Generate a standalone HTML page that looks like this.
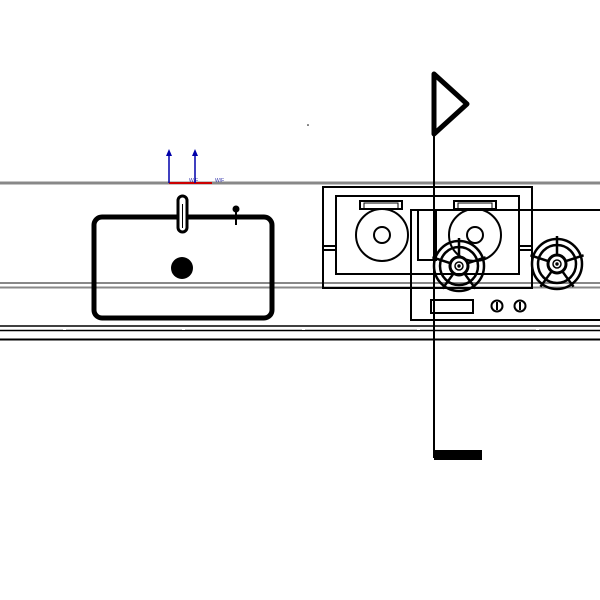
<!DOCTYPE html>
<html><head><style>html,body{margin:0;padding:0;background:#fff}svg{display:block}</style></head>
<body>
<svg width="600" height="600" viewBox="0 0 600 600" xmlns="http://www.w3.org/2000/svg">
<defs>
<g id="burner" fill="none" stroke="#000">
<circle r="25" stroke-width="2.5"/>
<circle r="19" stroke-width="2.5"/>
<circle r="9" stroke-width="3"/>
<circle r="4" stroke-width="1.5"/>
<circle r="1.2" fill="#000"/>
<g stroke-width="2.5">
<line x1="0" y1="-9" x2="0" y2="-28"/>
<line x1="8.6" y1="-2.8" x2="26.6" y2="-8.7"/>
<line x1="5.3" y1="7.3" x2="16.5" y2="22.7"/>
<line x1="-5.3" y1="7.3" x2="-16.5" y2="22.7"/>
<line x1="-8.6" y1="-2.8" x2="-26.6" y2="-8.7"/>
</g>
</g>
</defs>
<rect width="600" height="600" fill="#fff"/>
<line x1="0" y1="183" x2="600" y2="183" stroke="#888" stroke-width="3"/>
<line x1="0" y1="283" x2="600" y2="283" stroke="#888" stroke-width="2"/>
<line x1="0" y1="287.5" x2="600" y2="287.5" stroke="#888" stroke-width="2"/>
<g stroke="#000" stroke-width="1.6">
<line x1="0" y1="326" x2="600" y2="326"/>
<line x1="0" y1="330.5" x2="600" y2="330.5"/>
<line x1="0" y1="339.5" x2="600" y2="339.5" stroke-width="2"/>
</g>
<g fill="#fff">
<rect x="63" y="327" width="3" height="3"/>
<rect x="182" y="327" width="3" height="3"/>
<rect x="302" y="327" width="3" height="3"/>
<rect x="417" y="327" width="3" height="3"/>
<rect x="536" y="327" width="3" height="3"/>
</g>
<line x1="169" y1="183" x2="212" y2="183" stroke="#c00" stroke-width="2"/>
<line x1="169" y1="183" x2="169" y2="154" stroke="#00a" stroke-width="1.5"/>
<polygon points="166,156 172,156 169,149" fill="#00a"/>
<line x1="195" y1="183" x2="195" y2="154" stroke="#00a" stroke-width="1.5"/>
<polygon points="192,156 198,156 195,149" fill="#00a"/>
<text x="189" y="182" font-family="Liberation Sans, sans-serif" font-size="5" fill="#33a">W/F</text>
<text x="215" y="182" font-family="Liberation Sans, sans-serif" font-size="5" fill="#33a">W/F</text>
<circle cx="308" cy="125" r="0.8" fill="#000"/>
<rect x="94" y="217" width="178" height="101" rx="8" fill="none" stroke="#000" stroke-width="5"/>
<circle cx="182" cy="268" r="11" fill="#000"/>
<rect x="178" y="196" width="9" height="36" rx="4.5" fill="#fff" stroke="#000" stroke-width="3"/>
<line x1="182.5" y1="204" x2="182.5" y2="228" stroke="#000" stroke-width="1"/>
<circle cx="236" cy="209" r="3.5" fill="#000"/>
<line x1="236" y1="209" x2="236" y2="225" stroke="#000" stroke-width="2"/>
<g fill="none" stroke="#000" stroke-width="2">
<rect x="323" y="187" width="209" height="101"/>
<rect x="336" y="196" width="183" height="78"/>
<line x1="323" y1="246" x2="336" y2="246"/><line x1="323" y1="250" x2="336" y2="250"/>
<line x1="519" y1="246" x2="532" y2="246"/><line x1="519" y1="250" x2="532" y2="250"/>
<rect x="360" y="201" width="42" height="8"/>
<rect x="364" y="203" width="34" height="6" stroke-width="1"/>
<rect x="454" y="201" width="42" height="8"/>
<rect x="458" y="203" width="34" height="6" stroke-width="1"/>
<circle cx="382" cy="235" r="26"/>
<circle cx="382" cy="235" r="8"/>
<circle cx="475" cy="235" r="26"/>
<circle cx="475" cy="235" r="8"/>
<path d="M600 210 H411 V320 H600"/>
<rect x="418" y="210" width="18" height="50"/>
<rect x="431" y="300" width="42" height="13"/>
<circle cx="497" cy="306" r="5.5"/>
<circle cx="520" cy="306" r="5.5"/>
<line x1="497" y1="302" x2="497" y2="310"/>
<line x1="520" y1="302" x2="520" y2="310"/>
</g>
<use href="#burner" x="459" y="266"/>
<use href="#burner" x="557" y="264"/>
<line x1="434" y1="72" x2="434" y2="458" stroke="#000" stroke-width="2"/>
<polygon points="434,74 467,104 434,134" fill="none" stroke="#000" stroke-width="5" stroke-linejoin="round"/>
<rect x="434" y="450" width="48" height="10" fill="#000"/>
</svg>
</body></html>
